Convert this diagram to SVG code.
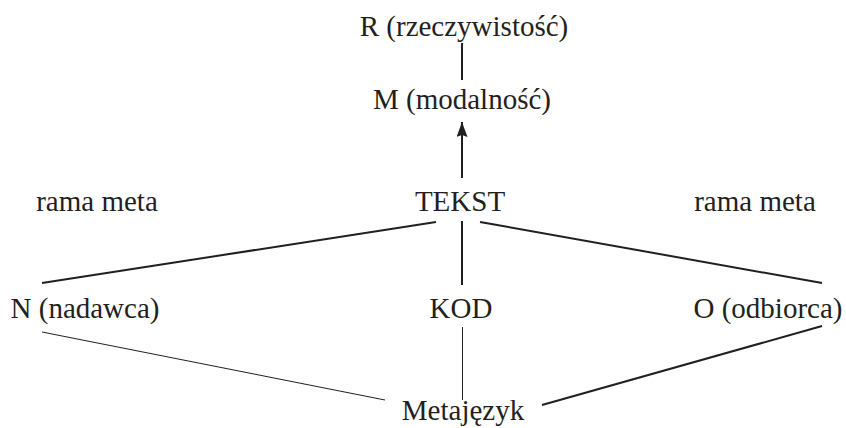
<svg xmlns="http://www.w3.org/2000/svg" width="846" height="428" viewBox="0 0 846 428">
<style>
text{font-family:"Liberation Serif","Times New Roman",serif;font-size:29px;fill:#231f20;text-anchor:middle}
.thick{stroke:#231f20;stroke-width:2;fill:none}
.thin{stroke:#231f20;stroke-width:1;fill:none}
</style>
<defs>
<marker id="ah" viewBox="0 0 15 11" refX="15" refY="5.5" markerWidth="15" markerHeight="11" markerUnits="userSpaceOnUse" orient="auto">
<path d="M0,0 L15,5.5 L0,11 L2,5.5 z" fill="#231f20"/>
</marker>
</defs>
<g id="connectors">
<line class="thick" x1="462" y1="43" x2="462" y2="80"/>
<line class="thick" x1="462" y1="178" x2="462" y2="122" marker-end="url(#ah)"/>
<line class="thick" x1="436" y1="222" x2="42" y2="283"/>
<line class="thick" x1="480" y1="222" x2="822" y2="283"/>
<line class="thick" x1="462" y1="221" x2="462" y2="285"/>
<line class="thin" x1="42" y1="332" x2="385" y2="400"/>
<line class="thin" x1="462.5" y1="327" x2="462.5" y2="400"/>
<line class="thick" x1="822" y1="326" x2="542" y2="405"/>
</g>
<g id="R"><text x="464" y="36">R (rzeczywistość)</text></g>
<g id="M"><text x="462" y="109">M (modalność)</text></g>
<g id="TEKST"><text x="460" y="211">TEKST</text></g>
<g id="rama-left"><text x="97" y="211">rama meta</text></g>
<g id="rama-right"><text x="755" y="211">rama meta</text></g>
<g id="N"><text x="85" y="318">N (nadawca)</text></g>
<g id="KOD"><text x="461" y="318">KOD</text></g>
<g id="O"><text x="768" y="318">O (odbiorca)</text></g>
<g id="Metajezyk"><text x="463" y="420">Metajęzyk</text></g>
</svg>
